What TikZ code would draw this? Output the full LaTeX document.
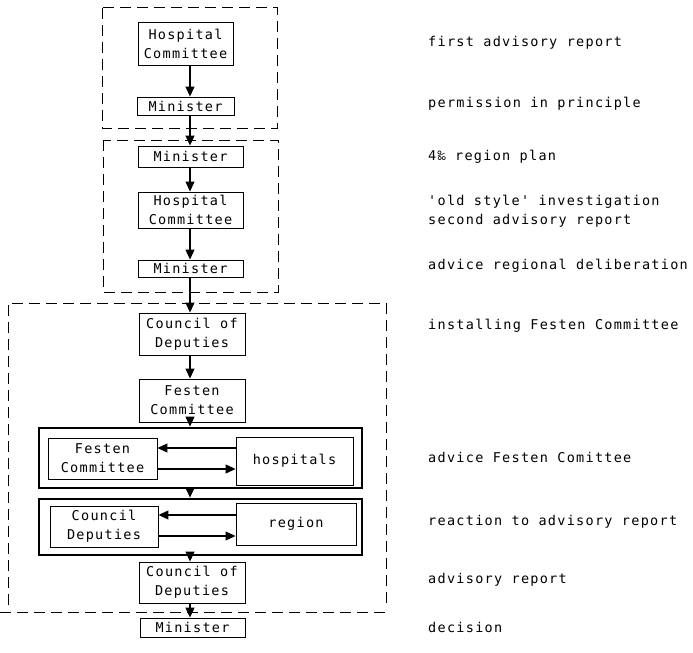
\documentclass[tikz,border=0pt]{standalone}
\usepackage{fontspec}
\newfontfamily\dm{DejaVu Sans Mono}[LetterSpace=9.5,Ligatures=TeXOff]
\usetikzlibrary{arrows.meta}
\tikzset{
  box/.style={draw, line width=0.9bp, inner sep=0pt, align=center},
  dbox/.style={draw, line width=0.8bp, inner sep=0pt},
  dashline/.style={draw, dash pattern=on 11bp off 6bp, line width=1bp},
  arr/.style={-{Triangle[length=10bp,width=9bp]}, line width=1.1bp},
  lbl/.style={anchor=west, inner sep=0pt, align=left},
}
\begin{document}
\begin{tikzpicture}[x=1bp,y=-1bp,font=\dm\fontsize{13.5bp}{19bp}\selectfont]
\useasboundingbox (0,0) rectangle (693,653);
\coordinate (col) at (190,0);
% dashed groups
\draw[dashline] (102,8) rectangle (277,128);
\draw[dashline] (103,140) rectangle (278,292);
\draw[dashline] (8,605) -- (8,303) -- (386,303) -- (386,605);
\draw[dashline] (0,612) -- (386,612);
% main column
\node[box, minimum width=95bp, minimum height=43bp] (hc1) at (185.5,43.5) {Hospital\\Committee};
\node[box, minimum width=97bp, minimum height=18bp] (m1) at (185.5,106) {Minister};
\node[box, minimum width=105bp, minimum height=21bp] (m2) at (190.5,156.5) {Minister};
\node[box, minimum width=105bp, minimum height=36bp] (hc2) at (190.5,210) {Hospital\\Committee};
\node[box, minimum width=105bp, minimum height=17bp] (m3) at (190.5,268.5) {Minister};
\node[box, minimum width=106bp, minimum height=42bp] (cod1) at (192,334) {Council of\\Deputies};
\node[box, minimum width=106bp, minimum height=43bp] (fc1) at (192,400.5) {Festen\\Committee};
\node[dbox, minimum width=324bp, minimum height=61bp] (bxa) at (200,457.5) {};
\draw[line width=0.7bp] ([shift={(1.4,1.4)}]bxa.north west) rectangle ([shift={(-1.4,-1.4)}]bxa.south east);
\node[box, minimum width=109bp, minimum height=41bp] (fc2) at (102.5,458.5) {Festen\\Committee};
\node[box, minimum width=117bp, minimum height=48bp] (hosp) at (294.5,461) {hospitals};
\node[dbox, minimum width=324bp, minimum height=57bp] (bxb) at (200,526.5) {};
\draw[line width=0.7bp] ([shift={(1.4,1.4)}]bxb.north west) rectangle ([shift={(-1.4,-1.4)}]bxb.south east);
\node[box, minimum width=108bp, minimum height=41bp] (cd) at (104,526.5) {Council\\Deputies};
\node[box, minimum width=120bp, minimum height=42bp] (reg) at (296,524) {region};
\node[box, minimum width=106bp, minimum height=41bp] (cod2) at (192,582.5) {Council of\\Deputies};
\node[box, minimum width=105bp, minimum height=19bp] (m4) at (192.5,627.5) {Minister};
% vertical arrows
\draw[arr] (hc1.south -| col) -- (m1.north -| col);
\draw[arr] (m1.south -| col) -- (m2.north -| col);
\draw[arr] (m2.south -| col) -- (hc2.north -| col);
\draw[arr] (hc2.south -| col) -- (m3.north -| col);
\draw[arr] (m3.south -| col) -- (cod1.north -| col);
\draw[arr] (cod1.south -| col) -- (fc1.north -| col);
\draw[arr] (fc1.south -| col) -- (bxa.north -| col);
\draw[arr] (bxa.south -| col) -- (bxb.north -| col);
\draw[arr] (bxb.south -| col) -- (cod2.north -| col);
\draw[arr] (cod2.south -| col) -- (m4.north -| col);
% horizontal arrows
\draw[arr] (hosp.west |- 0,448) -- (fc2.east |- 0,448);
\draw[arr] (fc2.east |- 0,469) -- (hosp.west |- 0,469);
\draw[arr] (reg.west |- 0,515) -- (cd.east |- 0,515);
\draw[arr] (cd.east |- 0,536) -- (reg.west |- 0,536);
% labels
\node[lbl] (l1) at (428,43) {first advisory report};
\node[lbl] (l2) at (428,104) {permission in principle};
\node[lbl] (l3) at (428,157) {4‰ region plan};
\node[lbl] (l4) at (428,211) {'old style' investigation\\second advisory report};
\node[lbl] (l5) at (428,266) {advice regional deliberation};
\node[lbl] (l6) at (428,326) {installing Festen Committee};
\node[lbl] (l7) at (428,457) {advice Festen Comittee};
\node[lbl] (l8) at (428,522) {reaction to advisory report};
\node[lbl] (l9) at (428,580) {advisory report};
\node[lbl] (l10) at (428,627) {decision};
\end{tikzpicture}
\end{document}
